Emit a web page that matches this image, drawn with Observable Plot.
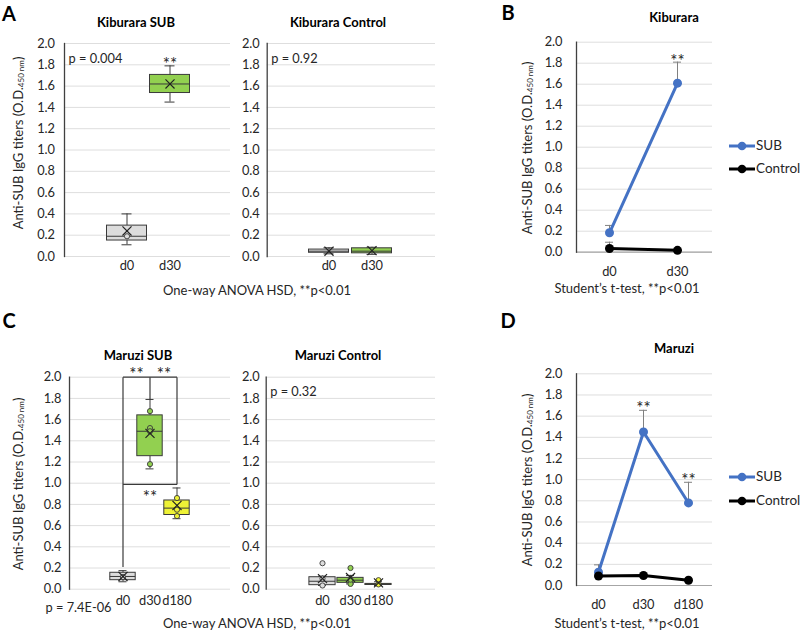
<!DOCTYPE html>
<html><head><meta charset="utf-8">
<script src="https://cdn.jsdelivr.net/npm/d3@7"></script>
<script src="https://cdn.jsdelivr.net/npm/@observablehq/plot@0.6"></script>
<style>
body{margin:0;background:#fff;}
#root{position:relative;width:800px;height:631px;font-family:Lato,sans-serif;color:#262626;overflow:hidden;background:#fff}
#root svg{position:absolute;left:0;top:0}
.t{position:absolute;white-space:nowrap;transform:translate(-50%,-50%);line-height:1}
.letter{font-weight:bold;font-size:20px;color:#000;line-height:1.2}
.title{font-weight:bold;font-size:13px;color:#000}
.foot{font-size:13px;color:#262626}
.ylab{position:absolute;white-space:nowrap;transform:translate(-50%,-50%) rotate(-90deg);font-size:13px;line-height:1;color:#262626}
.ylab sub{font-size:8px;vertical-align:-1px}
.leg{position:absolute;font-size:13.5px;color:#262626;line-height:1;white-space:nowrap}
</style></head><body><div id="root"></div>
<script>
// ---------- DATA ----------
const kibCats = ["d0", "d30"];
const maruCats = ["d0", "d30", "d180"];
const yTicks = [0, 0.2, 0.4, 0.6, 0.8, 1.0, 1.2, 1.4, 1.6, 1.8, 2.0];
const boxFills = {d0: "#dcdcdc", d30: "#92d050", d180: "#eef236"};

// Kiburara SUB (box stats)
const kibSubMin = [0.11, 1.45];
const kibSubQ1 = [0.15, 1.535];
const kibSubMed = [0.19, 1.62];
const kibSubQ3 = [0.29, 1.705];
const kibSubMax = [0.40, 1.79];
const kibSubMean = [0.24, 1.62];
const kibSubPtCat = ["d0"];
const kibSubPtVal = [0.19];
const kibSubP = "p = 0.004";

// Kiburara Control (box stats)
const kibCtlMin = [0.025, 0.02];
const kibCtlQ1 = [0.035, 0.03];
const kibCtlMed = [0.05, 0.05];
const kibCtlQ3 = [0.065, 0.077];
const kibCtlMax = [0.082, 0.087];
const kibCtlMean = [0.05, 0.055];
const kibCtlP = "p = 0.92";

// Maruzi SUB (box stats)
const maruSubMin = [0.07, 1.135, 0.665];
const maruSubQ1 = [0.085, 1.255, 0.70];
const maruSubMed = [0.12, 1.49, 0.765];
const maruSubQ3 = [0.155, 1.64, 0.837];
const maruSubMax = [0.175, 1.79, 0.955];
const maruSubMean = [0.12, 1.47, 0.79];
const maruSubPtCat = ["d0", "d30", "d30", "d30", "d30", "d180", "d180", "d180"];
const maruSubPtVal = [0.115, 1.68, 1.52, 1.49, 1.18, 0.86, 0.75, 0.69];
const maruSubP = "p = 7.4E-06";
// significance brackets (Maruzi SUB)
const brX1 = ["d0", "d0", "d180", "d0", "d30"];
const brY1 = [0.21, 2.0, 2.0, 0.988, 1.79];
const brX2 = ["d0", "d180", "d180", "d180", "d30"];
const brY2 = [2.0, 2.0, 0.988, 0.988, 2.0];

// Maruzi Control (box stats)
const maruCtlMin = [0.035, 0.05, 0.035];
const maruCtlQ1 = [0.038, 0.06, 0.04];
const maruCtlMed = [0.075, 0.085, 0.045];
const maruCtlQ3 = [0.113, 0.107, 0.05];
const maruCtlMax = [0.123, 0.13, 0.07];
const maruCtlMean = [0.10, 0.11, 0.06];
const maruCtlPtCat = ["d0", "d0", "d0", "d30", "d30", "d30", "d180", "d180"];
const maruCtlPtVal = [0.245, 0.035, 0.10, 0.20, 0.05, 0.09, 0.085, 0.045];
const maruCtlP = "p = 0.32";

// Line charts (means and upper error)
const kibSub = [0.185, 1.61];
const kibSubErr = [0.255, 1.81];
const kibCtl = [0.035, 0.018];
const kibCtlErr = [0.095, 0.018];
const kibSig = ["", "**"];
const maruSub = [0.125, 1.45, 0.78];
const maruSubErr = [0.195, 1.655, 0.975];
const maruCtl = [0.09, 0.094, 0.05];
const maruCtlErr = [0.09, 0.094, 0.05];
const maruSig = ["", "**", "**"];

// ---------- DRAW ----------
const FONT = "Lato, sans-serif";
const root = document.getElementById("root");
const W = 800, H = 631;
const fmt = d3.format(".1f");
const SIG = 17;

function base(f) {
  return {
    width: W, height: H,
    marginLeft: f.l, marginRight: W - f.r, marginTop: f.t, marginBottom: H - f.b,
    style: {background: "transparent", fontFamily: FONT, fontSize: "12.5px", color: "#262626", overflow: "visible"},
    color: {type: "identity"}
  };
}

function boxPanel(o) {
  const rows = o.cats.map((c, i) => ({cat: c, min: o.min[i], q1: o.q1[i], med: o.med[i], q3: o.q3[i], max: o.max[i], mean: o.mean[i], fill: boxFills[c]}));
  const pts = (o.ptCat || []).map((c, i) => ({cat: c, v: o.ptVal[i], fill: boxFills[c]}));
  const stroke = "#3a3a3a";
  return Plot.plot({
    ...base(o.f),
    x: {type: "band", domain: o.cats, range: o.range, padding: 0},
    y: {domain: [0, 2]},
    marks: [
      Plot.gridY(yTicks, {stroke: "#dedede", strokeOpacity: 1}),
      Plot.frame({anchor: "left", stroke: "#404040", strokeWidth: 1.3}),
      Plot.axisY(yTicks, {tickSize: 0, tickPadding: o.yPad, tickFormat: fmt, label: null, fontSize: 12.8}),
      Plot.axisX({tickSize: 0, tickPadding: o.xPad, label: null, fontSize: 12.8}),
      ...(o.pre || []),
      Plot.ruleX(rows, {x: "cat", y1: "q3", y2: "max", stroke}),
      Plot.ruleX(rows, {x: "cat", y1: "min", y2: "q1", stroke}),
      Plot.tickY(rows, {x: "cat", y: "max", insetLeft: o.capInset, insetRight: o.capInset, stroke}),
      Plot.tickY(rows, {x: "cat", y: "min", insetLeft: o.capInset, insetRight: o.capInset, stroke}),
      Plot.barY(rows, {x: "cat", y1: "q1", y2: "q3", fill: "fill", stroke, strokeWidth: 1, insetLeft: o.boxInset, insetRight: o.boxInset}),
      Plot.tickY(rows, {x: "cat", y: "med", insetLeft: o.boxInset, insetRight: o.boxInset, stroke}),
      Plot.dot(pts, {x: "cat", y: "v", r: 2.6, fill: "fill", stroke, strokeWidth: 0.9}),
      Plot.dot(rows, {x: "cat", y: "mean", symbol: "times", r: 4.2, stroke: "#222", strokeWidth: 1.2}),
      Plot.text([o.p], {frameAnchor: o.pAnchor || "top-left", dx: o.pdx, dy: o.pdy, textAnchor: "start", fontSize: 12.8, fill: "#262626"}),
      ...(o.extra || [])
    ]
  });
}

function linePanel(o) {
  const rows = [];
  o.cats.forEach((c, i) => rows.push({s: "SUB", cat: c, v: o.sub[i], err: o.subErr[i], color: "#4472c4", sig: o.sig[i]}));
  o.cats.forEach((c, i) => rows.push({s: "Control", cat: c, v: o.ctl[i], err: o.ctlErr[i], color: "#000000", sig: ""}));
  const errRows = rows.filter(d => d.err > d.v + 0.001);
  return Plot.plot({
    ...base(o.f),
    x: {type: "point", domain: o.cats, range: o.range, padding: 0},
    y: {domain: [0, 2]},
    marks: [
      Plot.gridY(yTicks, {stroke: "#dedede", strokeOpacity: 1}),
      Plot.ruleY([0], {stroke: "#a6a6a6", strokeWidth: 1.2}),
      Plot.frame({anchor: "left", stroke: "#404040", strokeWidth: 1.3}),
      Plot.axisY(yTicks, {tickSize: 0, tickPadding: o.yPad, tickFormat: fmt, label: null, fontSize: 12.8}),
      Plot.axisX({tickSize: 0, tickPadding: o.xPad, label: null, fontSize: 12.8}),
      Plot.ruleX(errRows, {x: "cat", y1: "v", y2: "err", stroke: "#808080", strokeWidth: 1}),
      Plot.ruleY(errRows, {x1: "cat", x2: "cat", y: "err", insetLeft: -4, insetRight: -4, stroke: "#808080", strokeWidth: 1}),
      Plot.line(rows, {x: "cat", y: "v", z: "s", stroke: "color", strokeWidth: 3}),
      Plot.dot(rows, {x: "cat", y: "v", fill: "color", r: 4.5}),
      Plot.text(rows.filter(d => d.sig), {x: "cat", y: "err", text: "sig", dy: o.sigDy, fontSize: SIG, fill: "#262626"})
    ]
  });
}

const panels = [
  boxPanel({cats: kibCats, min: kibSubMin, q1: kibSubQ1, med: kibSubMed, q3: kibSubQ3, max: kibSubMax, mean: kibSubMean,
    ptCat: kibSubPtCat, ptVal: kibSubPtVal, p: kibSubP, pdx: 4, pdy: 10,
    f: {l: 64, r: 230, t: 43, b: 256}, range: [104.5, 190.5], boxInset: 1.5, capInset: 16.5, yPad: 9.5, xPad: 4.6,
    extra: [Plot.text(["**"], {x: () => "d30", y: () => kibSubMax[1], dy: -1.5, fontSize: SIG, fill: "#262626"})]}),
  boxPanel({cats: kibCats, min: kibCtlMin, q1: kibCtlQ1, med: kibCtlMed, q3: kibCtlQ3, max: kibCtlMax, mean: kibCtlMean,
    p: kibCtlP, pdx: 4, pdy: 10,
    f: {l: 266.7, r: 435, t: 43, b: 256}, range: [306.5, 392.5], boxInset: 1.5, capInset: 16.5, yPad: 7.4, xPad: 4.6}),
  boxPanel({cats: maruCats, min: maruSubMin, q1: maruSubQ1, med: maruSubMed, q3: maruSubQ3, max: maruSubMax, mean: maruSubMean,
    ptCat: maruSubPtCat, ptVal: maruSubPtVal, p: maruSubP, pAnchor: "bottom-left", pdx: -24, pdy: 23,
    f: {l: 69, r: 230, t: 376.7, b: 588.7}, range: [108.25, 190.75], boxInset: 0.8, capInset: 9.5, yPad: 8, xPad: 6.9,
    pre: [Plot.link(brX1.map((x1, i) => ({x1, y1: brY1[i], x2: brX2[i], y2: brY2[i]})), {x1: "x1", y1: "y1", x2: "x2", y2: "y2", stroke: "#3a3a3a", strokeWidth: 1.2})],
    extra: [
      Plot.text(["**"], {x: () => "d30", y: () => brY2[1], dx: -13.5, dy: -2.5, fontSize: SIG, fill: "#262626"}),
      Plot.text(["**"], {x: () => "d30", y: () => brY2[1], dx: 14, dy: -2.5, fontSize: SIG, fill: "#262626"}),
      Plot.text(["**"], {x: () => "d30", y: () => brY1[3], dy: 13, fontSize: SIG, fill: "#262626"})
    ]}),
  boxPanel({cats: maruCats, min: maruCtlMin, q1: maruCtlQ1, med: maruCtlMed, q3: maruCtlQ3, max: maruCtlMax, mean: maruCtlMean,
    ptCat: maruCtlPtCat, ptVal: maruCtlPtVal, p: maruCtlP, pdx: 4, pdy: 10,
    f: {l: 265.7, r: 435, t: 376.7, b: 588.7}, range: [306.4, 392.6], boxInset: 0.9, capInset: 10, yPad: 6.4, xPad: 6.9}),
  linePanel({cats: kibCats, sub: kibSub, subErr: kibSubErr, ctl: kibCtl, ctlErr: kibCtlErr, sig: kibSig, sigDy: -0.5,
    f: {l: 576, r: 712, t: 41.7, b: 251.7}, range: [609.3, 677.3], yPad: 14, xPad: 14.8}),
  linePanel({cats: maruCats, sub: maruSub, subErr: maruSubErr, ctl: maruCtl, ctlErr: maruCtlErr, sig: maruSig, sigDy: -1.5,
    f: {l: 576, r: 712, t: 373.3, b: 585}, range: [597.5, 688.3], yPad: 14, xPad: 14.2})
];
panels.forEach(p => root.appendChild(p));

// ---------- TEXT ----------
function addText(cls, txt, x, y) {
  const d = document.createElement("div");
  d.className = "t " + cls; d.textContent = txt;
  d.style.left = x + "px"; d.style.top = y + "px";
  root.appendChild(d);
}
const letters = [["A", 9, 13], ["B", 508, 12], ["C", 9, 320], ["D", 508, 320]];
letters.forEach(([t, x, y]) => addText("letter", t, x, y));
const titles = [["Kiburara SUB", 136, 22], ["Kiburara Control", 338, 22], ["Kiburara", 674, 17],
  ["Maruzi SUB", 138, 355], ["Maruzi Control", 338, 355], ["Maruzi", 674, 348]];
titles.forEach(([t, x, y]) => addText("title", t, x, y));
const foots = [["One-way ANOVA HSD, **p<0.01", 257, 290], ["One-way ANOVA HSD, **p<0.01", 257, 623],
  ["Student\u2019s t-test, **p<0.01", 627, 288], ["Student\u2019s t-test, **p<0.01", 627, 623]];
foots.forEach(([t, x, y]) => addText("foot", t, x, y));

const yLabPos = [[18, 143], [527, 148], [18, 484], [527, 480]];
yLabPos.forEach(([x, y]) => {
  const d = document.createElement("div");
  d.className = "ylab";
  d.innerHTML = "Anti-SUB IgG titers (O.D.<sub>450 nm</sub>)";
  d.style.left = x + "px"; d.style.top = y + "px";
  root.appendChild(d);
});

// legends
const legendItems = [["SUB", "#4472c4"], ["Control", "#000000"]];
const legendPos = [[146, 169], [477, 501]];
legendPos.forEach(ys => {
  legendItems.forEach(([name, col], i) => {
    const y = ys[i];
    const s = document.createElementNS("http://www.w3.org/2000/svg", "svg");
    s.setAttribute("width", 28); s.setAttribute("height", 12);
    s.style.left = "728px"; s.style.top = (y - 6) + "px";
    s.innerHTML = `<line x1="1" x2="27" y1="6" y2="6" stroke="${col}" stroke-width="3"/><circle cx="14" cy="6" r="4.3" fill="${col}"/>`;
    root.appendChild(s);
    const d = document.createElement("div");
    d.className = "leg"; d.textContent = name;
    d.style.left = "756px"; d.style.top = (y - 7) + "px";
    root.appendChild(d);
  });
});
</script></body></html>
